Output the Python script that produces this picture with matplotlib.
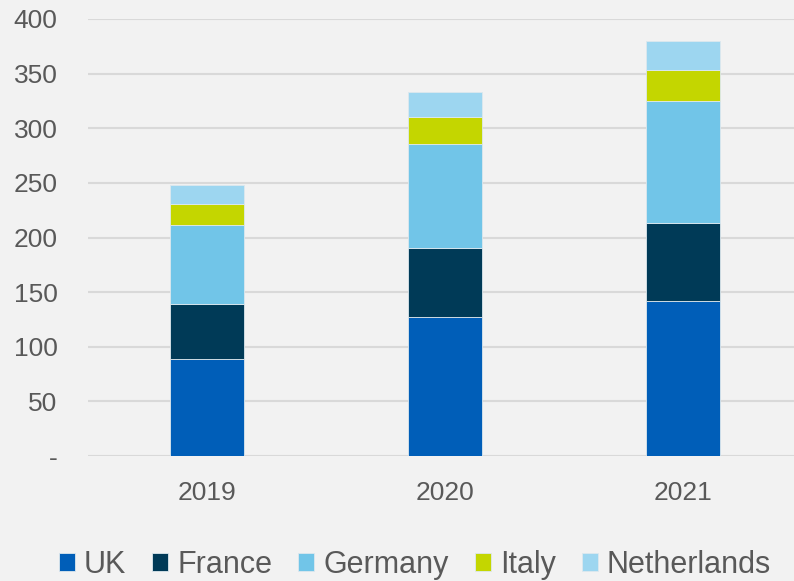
import numpy as np
import matplotlib.pyplot as plt

years = ["2019", "2020", "2021"]
uk = [89, 127, 142]
france = [50, 63, 71]
germany = [72, 96, 112]
italy = [20, 24, 28]
netherlands = [17, 23, 27]

series = [("UK", uk, "#005EB8"),
          ("France", france, "#003A57"),
          ("Germany", germany, "#71C5E8"),
          ("Italy", italy, "#C4D600"),
          ("Netherlands", netherlands, "#9DD6F0")]

plt.rcParams['font.family'] = ['Liberation Sans', 'DejaVu Sans']
txt = "#595959"

fig = plt.figure(figsize=(7.94, 5.81), dpi=100, facecolor="#F2F2F2")
ax = fig.add_axes([88/794, 125/581, 706/794, 437/581])
ax.set_facecolor("#F2F2F2")

x = np.arange(len(years))
bottom = np.zeros(len(years))
for name, vals, col in series:
    ax.bar(x, vals, 0.31, bottom=bottom, color=col, label=name,
           edgecolor="#DDE8EE", linewidth=0.6, zorder=3)
    bottom += np.array(vals)

ax.set_xlim(-0.5, -0.5 + 706/238)
ax.set_ylim(0, 400)
ax.set_yticks(range(0, 401, 50))
ax.set_yticklabels(["-"] + [str(v) for v in range(50, 401, 50)])
ax.set_xticks(x)
ax.set_xticklabels(years)
ax.grid(axis="y", color="#D9D9D9", linewidth=1.5, zorder=0)
for s in ax.spines.values():
    s.set_visible(False)
ax.tick_params(axis="y", length=0, pad=22, labelsize=19, labelcolor=txt)
ax.tick_params(axis="x", length=0, pad=18, labelsize=19, labelcolor=txt)

fig.legend(loc="center", bbox_to_anchor=(415/794, 1 - 565/581), ncol=5,
           frameon=False, fontsize=22, labelcolor=txt, handlelength=0.52,
           handleheight=0.52, handletextpad=0.3, columnspacing=0.85,
           borderpad=0)

fig.savefig("out.png", dpi=100, facecolor=fig.get_facecolor())
